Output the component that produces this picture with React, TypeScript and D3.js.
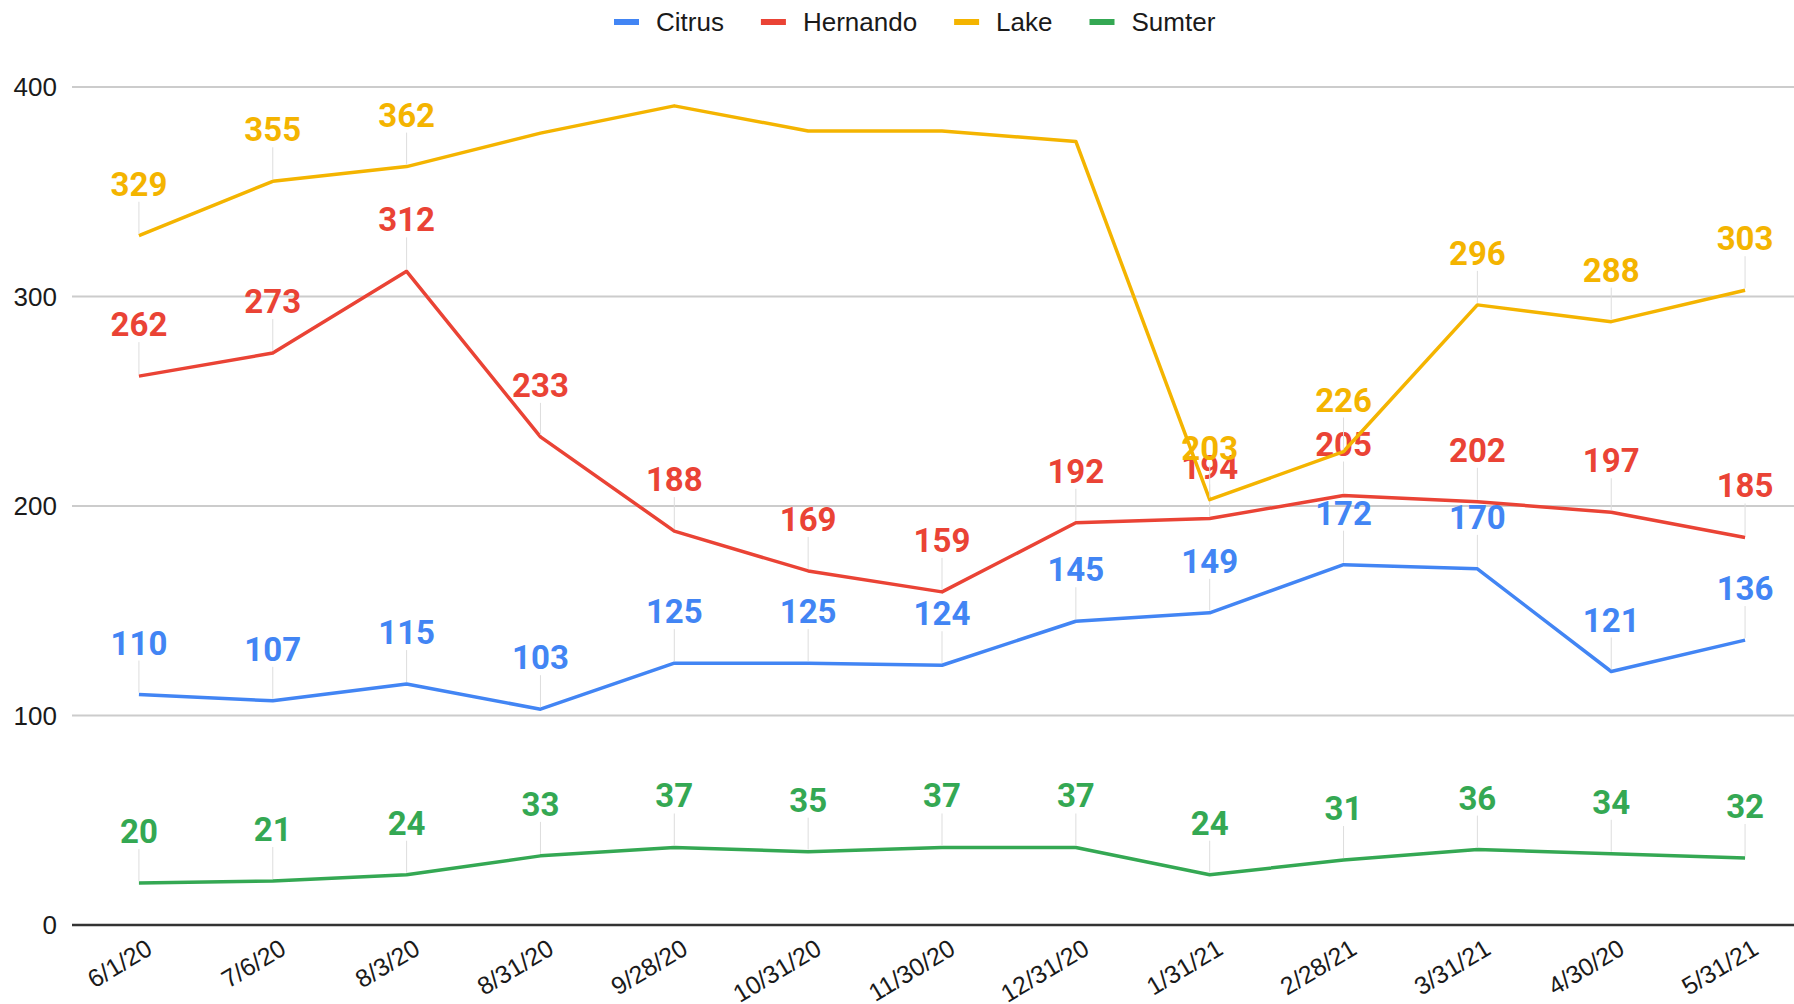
import React, { useEffect, useRef } from 'react';
import * as d3 from 'd3';

// data
const dates = ['6/1/20', '7/6/20', '8/3/20', '8/31/20', '9/28/20', '10/31/20', '11/30/20',
    '12/31/20', '1/31/21', '2/28/21', '3/31/21', '4/30/20', '5/31/21'];
const citrusValues = [110, 107, 115, 103, 125, 125, 124, 145, 149, 172, 170, 121, 136];
const hernandoValues = [262, 273, 312, 233, 188, 169, 159, 192, 194, 205, 202, 197, 185];
const lakeValues = [329, 355, 362, 378, 391, 379, 379, 374, 203, 226, 296, 288, 303];
const sumterValues = [20, 21, 24, 33, 37, 35, 37, 37, 24, 31, 36, 34, 32];
// lake points whose value label is not shown in the original
const lakeHiddenLabels = ['8/31/20', '9/28/20', '10/31/20', '11/30/20', '12/31/20'];
const yTicks = [0, 100, 200, 300, 400];

const seriesNames = ['Citrus', 'Hernando', 'Lake', 'Sumter'];
const seriesColors = ['#4285f4', '#ea4335', '#f4b400', '#34a853'];

export default function App() {
    const chartRef = useRef<SVGSVGElement | null>(null);

    useEffect(() => {
        if (!chartRef.current) return;
        const svg = d3.select(chartRef.current);
        svg.selectAll('*').remove();

        const W = 1794, H = 1004;
        const left = 72, right = 1812, top = 87, bottom = 925;
        const axisFont = '"Liberation Sans", Arial, sans-serif';

        const x = d3.scalePoint<string>().domain(dates).range([left, right]).padding(0.5);
        const y = d3.scaleLinear().domain([0, 400]).range([bottom, top]);

        svg.append('rect').attr('width', W).attr('height', H).attr('fill', '#fff');

        // gridlines
        svg.append('g')
            .selectAll('line')
            .data(yTicks.filter(t => t > 0))
            .enter().append('line')
            .attr('x1', left).attr('x2', W)
            .attr('y1', d => y(d)).attr('y2', d => y(d))
            .attr('stroke', '#cccccc')
            .attr('stroke-width', 2);

        // y tick labels
        svg.append('g')
            .selectAll('text')
            .data(yTicks)
            .enter().append('text')
            .attr('x', 57)
            .attr('y', d => y(d) + 9)
            .attr('text-anchor', 'end')
            .style('font-family', axisFont)
            .style('font-size', '26px')
            .style('fill', '#1a1a1a')
            .text(d => d);

        // zero line
        svg.append('line')
            .attr('x1', left).attr('x2', W)
            .attr('y1', y(0)).attr('y2', y(0))
            .attr('stroke', '#333')
            .attr('stroke-width', 2.5);

        // x labels
        svg.append('g')
            .selectAll('text')
            .data(dates)
            .enter().append('text')
            .attr('transform', d => `translate(${(x(d) as number) + 15}, 953) rotate(-31)`)
            .attr('text-anchor', 'end')
            .style('font-family', axisFont)
            .style('font-size', '25px')
            .style('fill', '#1a1a1a')
            .text(d => d);

        const allValues = [citrusValues, hernandoValues, lakeValues, sumterValues];
        const line = d3.line<number>()
            .x((_, i) => x(dates[i]) as number)
            .y(d => y(d));

        allValues.forEach((vals, s) => {
            const color = seriesColors[s];
            svg.append('path')
                .datum(vals)
                .attr('fill', 'none')
                .attr('stroke', color)
                .attr('stroke-width', 3.5)
                .attr('stroke-linejoin', 'round')
                .attr('d', line);

            const pts = vals
                .map((v, i) => ({ v, d: dates[i] }))
                .filter(p => !(s === 2 && lakeHiddenLabels.includes(p.d)));

            // leaders
            svg.append('g')
                .selectAll('line')
                .data(pts)
                .enter().append('line')
                .attr('x1', p => x(p.d) as number).attr('x2', p => x(p.d) as number)
                .attr('y1', p => y(p.v) - 2).attr('y2', p => y(p.v) - 34)
                .attr('stroke', '#dddddd')
                .attr('stroke-width', 1);

            // value labels
            svg.append('g')
                .selectAll('text')
                .data(pts)
                .enter().append('text')
                .attr('x', p => x(p.d) as number)
                .attr('y', p => y(p.v) - 40)
                .attr('text-anchor', 'middle')
                .style('font-family', 'Roboto, "Liberation Sans", sans-serif')
                .style('font-weight', 'bold')
                .style('font-size', '33px')
                .style('fill', color)
                .text(p => p.v);
        });

        // legend
        const legend = svg.append('g');
        let lx = 614;
        seriesNames.forEach((name, i) => {
            legend.append('rect')
                .attr('x', lx).attr('y', 19)
                .attr('width', 25).attr('height', 6)
                .attr('fill', seriesColors[i]);
            const t = legend.append('text')
                .attr('x', lx + 42)
                .attr('y', 31)
                .style('font-family', axisFont)
                .style('font-size', '26px')
                .style('fill', '#1a1a1a')
                .text(name);
            const w = (t.node() as SVGTextElement).getComputedTextLength();
            lx += 42 + w + 37;
        });
    }, []);

    return (
        <div style={{ position: 'absolute', left: 0, top: 0 }}>
            <svg ref={chartRef} width={1794} height={1004} style={{ display: 'block' }}></svg>
        </div>
    );
}
